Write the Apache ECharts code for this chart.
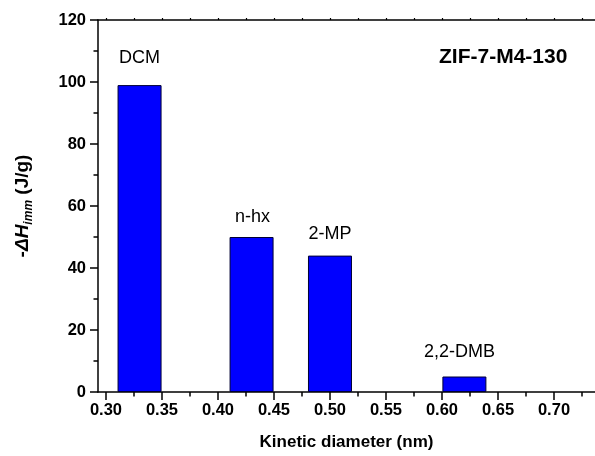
<!DOCTYPE html>
<html>
<head>
<meta charset="utf-8">
<script src="https://cdn.jsdelivr.net/npm/echarts@6/dist/echarts.min.js"></script>
<style>
  html, body { margin: 0; padding: 0; background: #ffffff; }
  #chart { width: 595px; height: 456px; }
</style>
</head>
<body>
<div id="chart"></div>
<script>
// Immersion enthalpy of ZIF-7-M4-130 versus probe-molecule kinetic diameter
const solvents = ['DCM', 'n-hx', '2-MP', '2,2-DMB'];
const kineticDiameters = [0.33, 0.43, 0.50, 0.62];   // nm
const immersionHeats = [99, 50, 44, 5];               // -ΔH_imm, J/g

const xMajorTicks = [0.30, 0.35, 0.40, 0.45, 0.50, 0.55, 0.60, 0.65, 0.70, 0.75];
const xTickLabels = [0.30, 0.35, 0.40, 0.45, 0.50, 0.55, 0.60, 0.65, 0.70];
const xMinorTicks = [0.325, 0.375, 0.425, 0.475, 0.525, 0.575, 0.625, 0.675, 0.725];
const yTickLabels = [0, 20, 40, 60, 80, 100, 120];

// small nudges for the molecule names above the bars: [dx, distance]
const nameNudge = [[0, 18], [1, 11], [0, 13], [-5, 15]];

const FONT = '"Liberation Sans", Arial, Helvetica, sans-serif';
const INK = '#000000';

const barData = solvents.map((name, i) => ({
  name: name,
  value: [kineticDiameters[i], immersionHeats[i]],
  label: { offset: [nameNudge[i][0], 0], distance: nameNudge[i][1] }
}));

const chart = echarts.init(document.getElementById('chart'), null, { renderer: 'canvas' });

const xMin = 0.2929, xMax = 0.7366;

chart.setOption({
  animation: false,
  backgroundColor: '#ffffff',
  title: {
    text: 'ZIF-7-M4-130',
    left: 439,
    top: 47,
    padding: 0,
    textStyle: { fontFamily: FONT, fontSize: 21, fontWeight: 'bold', color: INK }
  },
  grid: { left: 98, top: 20, width: 502, height: 375, containLabel: false },
  xAxis: [
    {
      type: 'value', position: 'bottom', min: xMin, max: xMax,
      name: 'Kinetic diameter (nm)', nameLocation: 'middle', nameGap: 42,
      nameTextStyle: { fontFamily: FONT, fontSize: 17, fontWeight: 'bold', color: INK },
      axisLine: { show: true, lineStyle: { color: INK, width: 1.5 } },
      axisTick: { show: true, customValues: xMajorTicks, length: 8, lineStyle: { color: INK, width: 1.5 } },
      axisLabel: {
        show: true, customValues: xTickLabels, margin: 10,
        fontFamily: FONT, fontSize: 16.5, fontWeight: 'bold', color: INK,
        formatter: v => v.toFixed(2)
      },
      splitLine: { show: false }
    },
    {
      // minor ticks along the bottom
      type: 'value', position: 'bottom', min: xMin, max: xMax,
      axisLine: { show: false },
      axisTick: { show: true, customValues: xMinorTicks, length: 4.5, lineStyle: { color: INK, width: 1.5 } },
      axisLabel: { show: false },
      splitLine: { show: false }
    },
    {
      // top frame with short mirrored ticks
      type: 'value', position: 'top', min: xMin, max: xMax,
      axisLine: { show: true, lineStyle: { color: INK, width: 1.5 } },
      axisTick: {
        show: true, customValues: xMajorTicks.concat(xMinorTicks).sort((a, b) => a - b),
        length: 2, lineStyle: { color: INK, width: 1.2 }
      },
      axisLabel: { show: false },
      splitLine: { show: false }
    }
  ],
  yAxis: {
    type: 'value', min: yTickLabels[0], max: yTickLabels[yTickLabels.length - 1], interval: 20,
    name: '{a|-}{b|ΔH}{c|imm}{a| (J/g)}',
    nameLocation: 'middle', nameRotate: 90, nameGap: 63,
    nameTextStyle: {
      fontFamily: FONT, fontSize: 19, fontWeight: 'bold', color: INK,
      rich: {
        a: { fontFamily: FONT, fontSize: 19, fontWeight: 'bold', color: INK, lineHeight: 24, verticalAlign: 'middle' },
        b: { fontFamily: FONT, fontSize: 19, fontWeight: 'bold', fontStyle: 'italic', color: INK, lineHeight: 24, verticalAlign: 'middle' },
        c: { fontFamily: FONT, fontSize: 12, fontWeight: 'bold', fontStyle: 'italic', color: INK, lineHeight: 12, verticalAlign: 'bottom' }
      }
    },
    axisLine: { show: true, lineStyle: { color: INK, width: 1.5 } },
    axisTick: { show: true, length: 8, lineStyle: { color: INK, width: 1.5 } },
    minorTick: { show: true, splitNumber: 2, length: 4.5, lineStyle: { color: INK, width: 1.5 } },
    axisLabel: { margin: 12, fontFamily: FONT, fontSize: 16.5, fontWeight: 'bold', color: INK },
    splitLine: { show: false },
    minorSplitLine: { show: false }
  },
  series: [
    {
      type: 'bar',
      xAxisIndex: 0,
      yAxisIndex: 0,
      barWidth: 44,
      data: barData,
      itemStyle: { color: '#0000ff', borderColor: '#000033', borderWidth: 1 },
      label: {
        show: true, position: 'top',
        formatter: p => p.name,
        fontFamily: FONT, fontSize: 18, lineHeight: 18, color: INK
      }
    }
  ]
});
</script>
</body>
</html>
